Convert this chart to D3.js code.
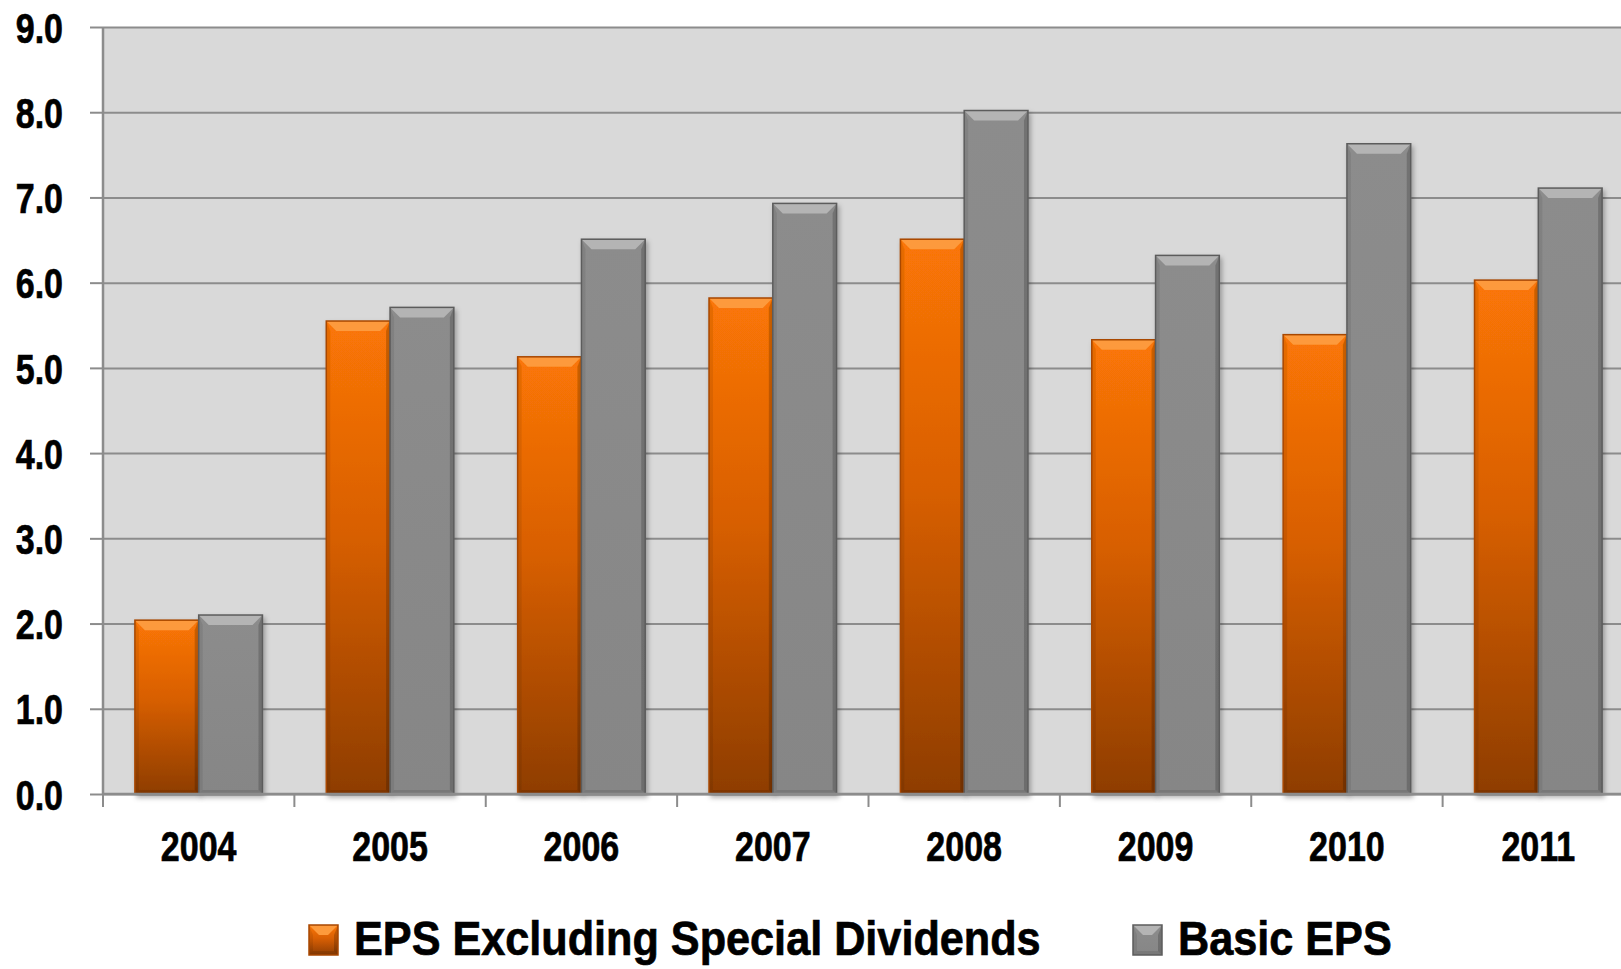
<!DOCTYPE html>
<html>
<head>
<meta charset="utf-8">
<script src="https://cdn.jsdelivr.net/npm/d3@7"></script>
<style>
  body { margin: 0; background: #fff; }
  text { font-family: "Liberation Sans Narrow", "Arial Narrow", "Liberation Sans", sans-serif; font-weight: bold; stroke: #000; stroke-width: 0.7px; }
</style>
</head>
<body>
<script>
const years = ['2004', '2005', '2006', '2007', '2008', '2009', '2010', '2011'];
const seriesNames = ['EPS Excluding Special Dividends', 'Basic EPS'];
const epsExclSpecial = [2.04, 5.55, 5.13, 5.82, 6.51, 5.33, 5.39, 6.03];
const basicEps = [2.10, 5.71, 6.51, 6.93, 8.02, 6.32, 7.63, 7.11];
const yTicks = [0, 1, 2, 3, 4, 5, 6, 7, 8, 9];

const width = 1621;
const height = 969;
const margin = { top: 27, left: 103, bottom: 175 };
const plotRight = 1634; // plot area runs past the right edge of the picture

const rows = years.map((y, i) => ({ year: y, values: [epsExclSpecial[i], basicEps[i]] }));

const svg = d3.select('body').append('svg')
  .attr('width', width)
  .attr('height', height);

// no narrow font installed, so squeeze the glyphs
function condense(sel, k) {
  sel.each(function() {
    const len = this.getComputedTextLength();
    d3.select(this)
      .attr('textLength', len * k)
      .attr('lengthAdjust', 'spacingAndGlyphs');
  });
}

const defs = svg.append('defs');
const orangeGrad = defs.append('linearGradient')
  .attr('id', 'orangeGrad').attr('x1', 0).attr('y1', 0).attr('x2', 0).attr('y2', 1);
orangeGrad.append('stop').attr('offset', '0%').attr('stop-color', '#fb7607');
orangeGrad.append('stop').attr('offset', '45%').attr('stop-color', '#d85f04');
orangeGrad.append('stop').attr('offset', '100%').attr('stop-color', '#8e3d03');

const grayGrad = defs.append('linearGradient')
  .attr('id', 'grayGrad').attr('x1', 0).attr('y1', 0).attr('x2', 0).attr('y2', 1);
grayGrad.append('stop').attr('offset', '0%').attr('stop-color', '#8c8c8c');
grayGrad.append('stop').attr('offset', '100%').attr('stop-color', '#868686');

const shadow = defs.append('filter').attr('id', 'shadow')
  .attr('x', '-10%').attr('y', '-10%').attr('width', '130%').attr('height', '130%');
shadow.append('feDropShadow')
  .attr('dx', 2).attr('dy', 3).attr('stdDeviation', 2.5)
  .attr('flood-color', '#000').attr('flood-opacity', 0.3);

const fills = ['url(#orangeGrad)', 'url(#grayGrad)'];
const topFills = ['#fd9a3c', '#b4b4b4'];
const strokes = ['#a84700', '#5c5c5c'];

const x0 = d3.scaleBand()
  .domain(years)
  .range([margin.left, plotRight]);

const x1 = d3.scaleBand()
  .domain([0, 1])
  .range([0, x0.bandwidth()])
  .paddingOuter(0.5);

const y = d3.scaleLinear()
  .domain([0, 9])
  .range([height - margin.bottom, margin.top]);

// plot background
svg.append('rect')
  .attr('x', margin.left)
  .attr('y', y(9))
  .attr('width', plotRight - margin.left)
  .attr('height', y(0) - y(9))
  .attr('fill', '#d9d9d9');

// gridlines + y axis
const yAxis = svg.append('g')
  .attr('transform', `translate(${margin.left}, 0)`)
  .call(d3.axisLeft(y).tickValues(yTicks).tickSize(13).tickFormat(d3.format('.1f')));
yAxis.select('.domain').remove();
yAxis.selectAll('.tick line').attr('stroke', '#8c8c8c').attr('stroke-width', 2);
yAxis.selectAll('.tick line').clone()
  .attr('x1', 0).attr('x2', plotRight - margin.left);
yAxis.selectAll('.tick text')
  .attr('x', -40)
  .attr('dy', '0.36em')
  .attr('fill', '#000')
  .attr('font-size', 42)
  .call(condense, 0.81);

svg.append('line')
  .attr('x1', margin.left).attr('x2', margin.left)
  .attr('y1', y(9)).attr('y2', y(0))
  .attr('stroke', '#8c8c8c').attr('stroke-width', 2.5);

// bevelled bar drawing
function bevelBar(g, w, h, s) {
  const b = Math.min(10, h / 2);
  const e = 4;
  g.append('rect').attr('width', w).attr('height', h).attr('fill', fills[s]);
  g.append('polygon')
    .attr('points', `0,0 ${w},0 ${w - b},${b} ${b},${b}`)
    .attr('fill', topFills[s]);
  g.append('polygon')
    .attr('points', `${w},0 ${w},${h} ${w - e},${h - e} ${w - e},${b}`)
    .attr('fill', '#000').attr('opacity', 0.18);
  g.append('polygon')
    .attr('points', `0,0 ${e},${b} ${e},${h - e} 0,${h}`)
    .attr('fill', '#000').attr('opacity', 0.08);
  g.append('polygon')
    .attr('points', `0,${h} ${e},${h - e} ${w - e},${h - e} ${w},${h}`)
    .attr('fill', '#000').attr('opacity', 0.1);
  g.append('rect').attr('width', w).attr('height', h)
    .attr('fill', 'none').attr('stroke', strokes[s]).attr('stroke-width', 1.5);
}

const groups = svg.selectAll('g.year')
  .data(rows)
  .join('g')
    .attr('class', 'year')
    .attr('transform', d => `translate(${x0(d.year)}, 0)`);

groups.selectAll('g.bar')
  .data(d => d.values.map((v, s) => ({ v, s })))
  .join('g')
    .attr('class', 'bar')
    .attr('filter', 'url(#shadow)')
    .attr('transform', d => `translate(${x1(d.s)}, ${y(d.v)})`)
    .each(function(d) {
      bevelBar(d3.select(this), x1.bandwidth(), y(0) - y(d.v), d.s);
    });

// x axis
const xAxis = svg.append('g')
  .attr('transform', `translate(0, ${y(0)})`)
  .call(d3.axisBottom(x0).tickSize(0).tickPadding(37));
xAxis.select('.domain').remove();
xAxis.selectAll('.tick text')
  .attr('fill', '#000')
  .attr('font-size', 42)
  .call(condense, 0.81);

svg.append('line')
  .attr('x1', margin.left).attr('x2', plotRight)
  .attr('y1', y(0)).attr('y2', y(0))
  .attr('stroke', '#8c8c8c').attr('stroke-width', 2.5);

svg.append('g').selectAll('line')
  .data(years.concat(['end']))
  .join('line')
    .attr('x1', (d, i) => margin.left + i * x0.step())
    .attr('x2', (d, i) => margin.left + i * x0.step())
    .attr('y1', y(0)).attr('y2', y(0) + 13)
    .attr('stroke', '#8c8c8c').attr('stroke-width', 2);

// legend
const legendPos = [309, 1133];
const legend = svg.append('g');
seriesNames.forEach((name, s) => {
  const item = legend.append('g').attr('transform', `translate(${legendPos[s]}, 925)`);
  const m = item.append('g');
  bevelBar(m, 29, 30, s);
  item.append('text')
    .attr('x', 45)
    .attr('y', 30)
    .attr('font-size', 48)
    .attr('fill', '#000')
    .text(name)
    .call(condense, 0.9);
});
</script>
</body>
</html>
